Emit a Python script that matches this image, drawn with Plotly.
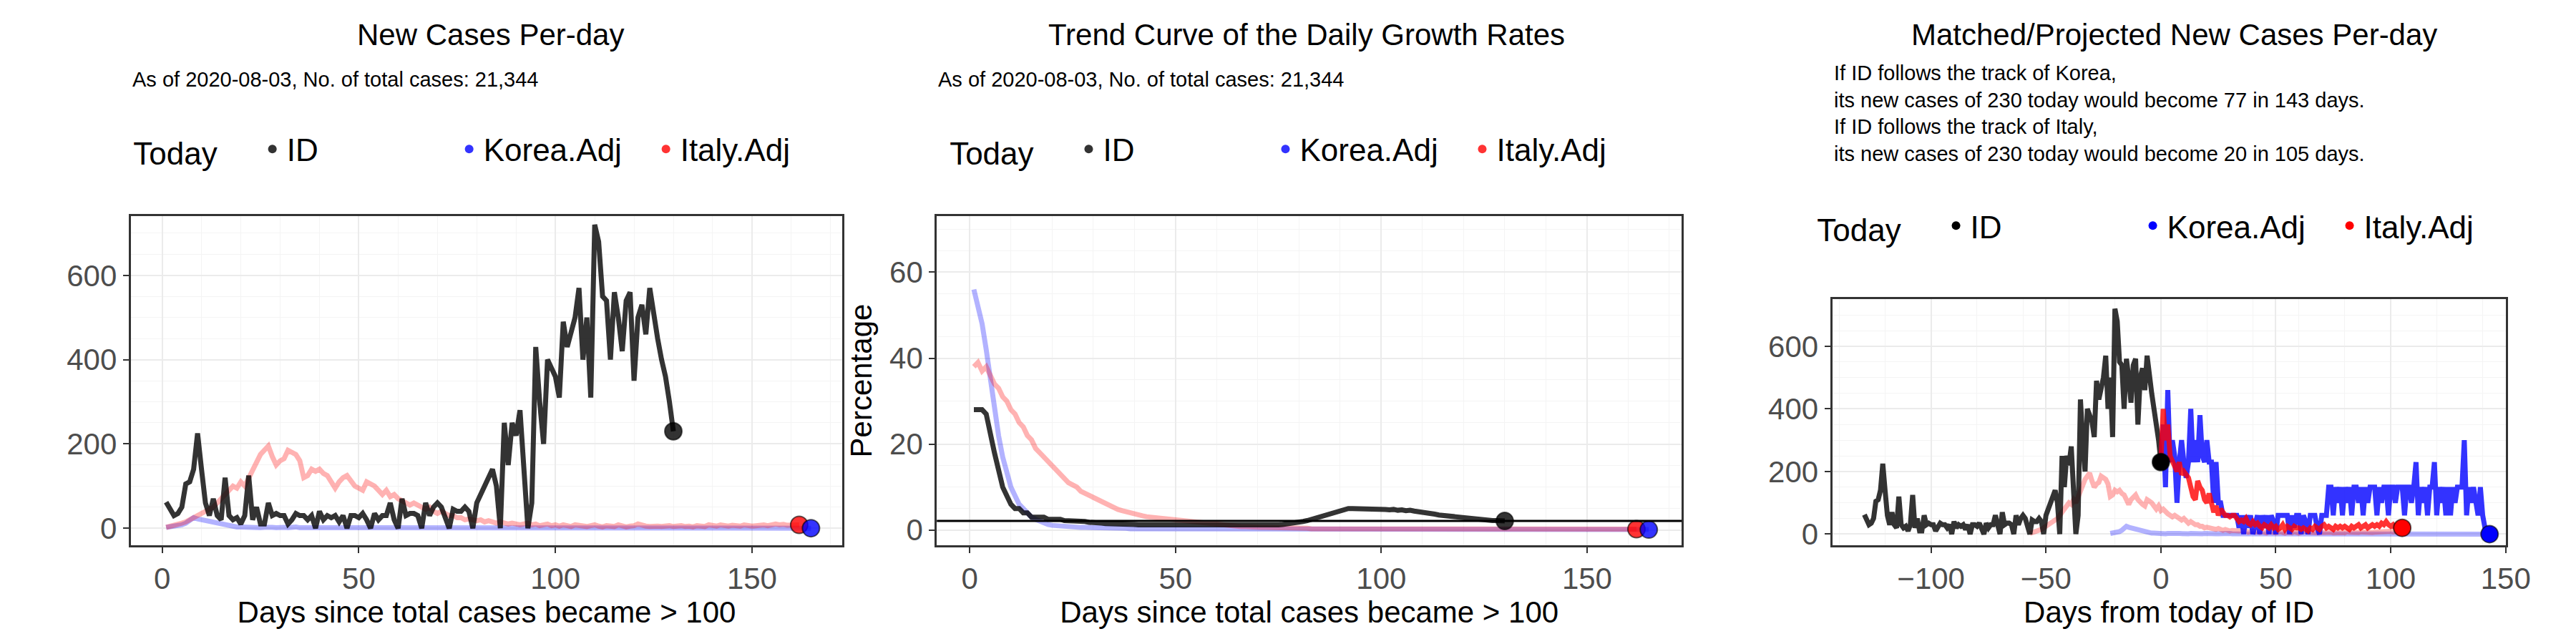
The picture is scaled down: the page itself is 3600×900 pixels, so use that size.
import plotly.graph_objects as go

# ---- data ----
id_new = [62, 45, 30, 35, 50, 105, 110, 140, 225, 140, 60, 30, 70, 30, 20, 120, 30, 20, 25, 10,
          30, 125, 20, 50, 10, 10, 60, 30, 35, 30, 30, 10, 20, 35, 30, 30, 20, 30, 0, 40,
          20, 30, 25, 30, 15, 30, 0, 30, 30, 25, 35, 20, 0, 35, 20, 30, 30, 60, 20, 0,
          70, 30, 35, 35, 30, 0, 60, 30, 50, 60, 50, 25, 0, 45, 40, 40, 50, 40, 0, 60,
          80, 100, 120, 140, 100, 0, 250, 150, 250, 220, 280, 140, 0, 60, 430, 300, 200, 400, 380, 360,
          310, 490, 430, 460, 500, 570, 400, 500, 310, 720, 680, 550, 540, 400, 560, 500, 420, 540, 560, 350,
          500, 530, 460, 570, 500, 450, 400, 360, 300, 230]

korea_adj = [2, 3, 4, 5, 8, 12, 18, 25, 22, 20, 18, 15, 12, 10, 8, 6, 5, 4, 3, 3,
             2, 3, 2, 2, 1, 2, 3, 2, 1, 2, 2, 1, 2, 3, 1, 2, 1, 1, 2, 1,
             1, 2, 1, 1, 2, 1, 1, 1, 2, 1, 1, 1, 2, 1, 1, 1, 1, 2, 1, 1,
             1, 1, 2, 1, 1, 1, 1, 1, 2, 1, 1, 1, 1, 1, 1, 2, 1, 1, 1, 1,
             1, 1, 1, 2, 1, 1, 1, 1, 1, 1, 1, 1, 2, 1, 1, 1, 1, 1, 1, 1,
             2, 1, 1, 1, 1, 1, 2, 1, 1, 1, 1, 1, 1, 2, 1, 1, 1, 1, 1, 1,
             1, 2, 1, 1, 1, 1, 1, 1, 2, 1, 1, 1, 1, 1, 1, 1, 2, 1, 1, 1,
             1, 1, 1, 2, 1, 1, 1, 1, 1, 1, 1, 1, 2, 1, 1, 1, 1, 1, 1, 1,
             1, 1, 1, 1, 0]

italy_adj = [2, 4, 6, 8, 12, 15, 20, 25, 30, 35, 40, 45, 50, 60, 70, 80, 90, 100, 95, 110,
             100, 120, 140, 160, 175, 185, 195, 170, 150, 160, 165, 185, 180, 175, 160, 120, 125, 140, 135, 140,
             130, 125, 110, 95, 110, 120, 125, 110, 100, 95, 90, 110, 105, 100, 90, 80, 90, 75, 80, 70,
             65, 60, 55, 60, 55, 50, 45, 50, 40, 35, 40, 35, 30, 30, 25, 25, 20, 22, 20, 18,
             20, 15, 18, 15, 12, 15, 12, 10, 12, 10, 8, 10, 12, 8, 10, 6, 8, 10, 6, 8,
             5, 8, 6, 4, 8, 6, 5, 4, 6, 8, 5, 3, 6, 5, 4, 8, 5, 3, 5, 6,
             10, 6, 5, 4, 6, 5, 4, 5, 6, 4, 5, 6, 4, 5, 3, 6, 5, 4, 8, 6,
             5, 8, 6, 5, 7, 6, 5, 8, 6, 5, 6, 7, 8, 6, 8, 10, 8, 9, 7, 8,
             8, 8]

id_growth = [28, 28, 28, 27, 22, 18, 14, 10, 8, 6, 5, 5, 4, 4, 3, 3, 3, 3, 2.5, 2.5,
             2.5, 2.5, 2.2, 2.2, 2, 2, 2, 2, 1.8, 1.8, 1.6, 1.6, 1.5, 1.5, 1.4, 1.4, 1.4, 1.3, 1.3, 1.3,
             1.2, 1.2, 1.2, 1.2, 1.1, 1.1, 1.1, 1.1, 1.1, 1, 1, 1, 1, 1, 1, 1, 1, 1, 1, 1,
             1, 1, 1, 1, 1, 1, 1, 1, 1, 1, 1.1, 1.1, 1.1, 1.2, 1.2, 1.3, 1.4, 1.5, 1.6, 1.8,
             2, 2.2, 2.5, 2.8, 3, 3.3, 3.6, 4, 4.3, 4.6, 4.8, 5, 5, 5, 5, 5, 4.8, 4.9, 4.8, 4.9,
             4.8, 4.7, 4.8, 4.6, 4.7, 4.5, 4.6, 4.4, 4.3, 4.2, 4, 3.9, 3.7, 3.5, 3.4, 3.2, 3, 2.9, 2.8, 2.7,
             2.6, 2.5, 2.5, 2.4, 2.3, 2.3, 2.2, 2.2, 2.1, 2.1]

korea_growth = [56, 52, 48, 42, 35, 28, 22, 17, 13, 10, 8, 6, 5, 4, 3, 2.5, 2, 1.6, 1.3, 1.1,
                1, 0.9, 0.8, 0.8, 0.7, 0.7, 0.6, 0.6, 0.6, 0.5, 0.5, 0.5, 0.5, 0.4, 0.4, 0.4, 0.4, 0.4, 0.3, 0.3,
                0.3, 0.3, 0.3, 0.3, 0.3, 0.3, 0.2, 0.2, 0.2, 0.2, 0.2, 0.2, 0.2, 0.2, 0.2, 0.2, 0.2, 0.2, 0.2, 0.2,
                0.2, 0.2, 0.2, 0.2, 0.2, 0.2, 0.2, 0.2, 0.2, 0.2, 0.1, 0.1, 0.1, 0.1, 0.1, 0.1, 0.1, 0.1, 0.1, 0.1,
                0.1, 0.1, 0.1, 0.1, 0.1, 0.1, 0.1, 0.1, 0.1, 0.1, 0.1, 0.1, 0.1, 0.1, 0.1, 0.1, 0.1, 0.1, 0.1, 0.1,
                0.1, 0.1, 0.1, 0.1, 0.1, 0.1, 0.1, 0.1, 0.1, 0.1, 0.1, 0.1, 0.1, 0.1, 0.1, 0.1, 0.1, 0.1, 0.1, 0.1,
                0.1, 0.1, 0.1, 0.1, 0.1, 0.1, 0.1, 0.1, 0.1, 0.1, 0.1, 0.1, 0.1, 0.1, 0.1, 0.1, 0.1, 0.1, 0.1, 0.1,
                0.1, 0.1, 0.1, 0.1, 0.1, 0.1, 0.1, 0.1, 0.1, 0.1, 0.1, 0.1, 0.1, 0.1, 0.1, 0.1, 0.1, 0.1, 0.1, 0.1,
                0.1, 0.1, 0.1, 0.1, 0.1]

italy_growth = [38, 39, 37, 38, 36, 34, 33, 31, 30, 28, 27, 25, 24, 22, 21, 19, 18, 17, 16, 15,
                14, 13, 12, 11, 10.5, 10, 9, 8.5, 8, 7.5, 7, 6.5, 6, 5.5, 5, 4.8, 4.5, 4.2, 4, 3.8,
                3.5, 3.3, 3.1, 3, 2.8, 2.6, 2.5, 2.4, 2.3, 2.2, 2.1, 2, 1.9, 1.8, 1.7, 1.6, 1.5, 1.4, 1.3, 1.2,
                1.1, 1, 1, 0.9, 0.9, 0.8, 0.8, 0.7, 0.7, 0.7, 0.6, 0.6, 0.6, 0.5, 0.5, 0.5, 0.5, 0.4, 0.4, 0.4,
                0.4, 0.4, 0.3, 0.3, 0.3, 0.3, 0.3, 0.3, 0.3, 0.3, 0.2, 0.2, 0.2, 0.2, 0.2, 0.2, 0.2, 0.2, 0.2, 0.2,
                0.2, 0.2, 0.2, 0.2, 0.2, 0.2, 0.2, 0.2, 0.2, 0.2, 0.2, 0.2, 0.2, 0.2, 0.2, 0.2, 0.2, 0.2, 0.2, 0.2,
                0.2, 0.2, 0.2, 0.2, 0.2, 0.2, 0.2, 0.2, 0.2, 0.2, 0.2, 0.2, 0.2, 0.2, 0.2, 0.2, 0.2, 0.2, 0.2, 0.2,
                0.2, 0.2, 0.2, 0.2, 0.2, 0.2, 0.2, 0.2, 0.2, 0.2, 0.2, 0.2, 0.2, 0.2, 0.2, 0.2, 0.2, 0.2, 0.2, 0.2,
                0.2, 0.2]

growth_ref = 2.1

korea_proj = [230, 350, 150, 460, 230, 300, 250, 100, 230, 300, 230, 180, 230, 400, 230, 300, 230, 380, 250, 230,
              300, 230, 230, 100, 230, 100, 100, 60, 60, 60, 60, 60, 60, 60, 20, 60, 0, 60, 20, 60,
              0, 40, 60, 0, 60, 20, 60, 0, 60, 40, 0, 60, 60, 60, 60, 60, 0, 60, 20, 60,
              60, 0, 60, 40, 0, 60, 60, 60, 20, 0, 60, 60, 60, 150, 150, 60, 150, 100, 150, 60,
              150, 100, 150, 60, 150, 150, 100, 150, 60, 150, 100, 150, 150, 150, 60, 150, 100, 150, 150, 60,
              150, 150, 100, 150, 150, 150, 60, 150, 150, 100, 150, 230, 60, 150, 100, 150, 60, 150, 150, 230,
              60, 150, 100, 150, 60, 150, 60, 150, 100, 150, 150, 150, 300, 60, 150, 100, 150, 100, 60, 150,
              60, 20, 0, 0]

italy_proj = [230, 400, 300, 350, 250, 230, 220, 200, 230, 190, 200, 190, 180, 150, 120, 110, 170, 150, 140, 110,
              100, 130, 90, 70, 90, 60, 80, 70, 60, 60, 55, 60, 60, 50, 40, 45, 40, 50, 35, 30,
              40, 30, 35, 25, 20, 30, 25, 20, 30, 20, 25, 15, 20, 30, 15, 25, 20, 15, 25, 20,
              20, 15, 20, 15, 10, 20, 15, 25, 20, 15, 25, 30, 20, 25, 20, 15, 25, 20, 25, 20,
              25, 20, 15, 25, 20, 25, 30, 20, 25, 30, 20, 25, 30, 25, 30, 25, 35, 30, 40, 30,
              25, 30, 20, 20, 20, 20]

italy_shift = -58
korea_shift = -23

BLACK = "rgba(0,0,0,0.8)"
BLUE_F = "rgba(0,0,255,0.3)"
RED_F = "rgba(255,0,0,0.3)"
BLUE = "rgba(0,0,255,0.8)"
RED = "rgba(255,0,0,0.8)"
LW = 7

fig = go.Figure()


def line(x, y, color, xa, ya):
    fig.add_trace(go.Scatter(x=list(x), y=y, mode="lines", line=dict(color=color, width=LW),
                             showlegend=False, xaxis=xa, yaxis=ya, hoverinfo="skip"))


def dot(x, y, color, xa, ya):
    fig.add_trace(go.Scatter(x=[x], y=[y], mode="markers",
                             marker=dict(color=color, size=24, line=dict(color="rgba(0,0,0,0.6)", width=2)),
                             showlegend=False, xaxis=xa, yaxis=ya))


def legend_keys(lg, colors):
    for name, c in zip(["ID", "Korea.Adj", "Italy.Adj"], colors):
        fig.add_trace(go.Scatter(x=[None], y=[None], mode="markers", name=name,
                                 marker=dict(color=c, size=24), legend=lg, xaxis="x", yaxis="y"))


d_id = range(1, len(id_new) + 1)
d_ko = range(1, len(korea_adj) + 1)
d_it = range(1, len(italy_adj) + 1)

# panel 1
line(d_ko, korea_adj, BLUE_F, "x", "y")
line(d_it, italy_adj, RED_F, "x", "y")
line(d_id, id_new, BLACK, "x", "y")
dot(len(id_new), id_new[-1], BLACK, "x", "y")
dot(len(italy_adj), italy_adj[-1], RED, "x", "y")
dot(len(korea_adj), korea_adj[-1], BLUE, "x", "y")

# panel 2
line(range(1, len(korea_growth) + 1), korea_growth, BLUE_F, "x2", "y2")
line(range(1, len(italy_growth) + 1), italy_growth, RED_F, "x2", "y2")
line(range(1, len(id_growth) + 1), id_growth, BLACK, "x2", "y2")
dot(len(id_growth), id_growth[-1], BLACK, "x2", "y2")
dot(len(italy_growth), italy_growth[-1], RED, "x2", "y2")
dot(len(korea_growth), korea_growth[-1], BLUE, "x2", "y2")

# panel 3
n = len(id_new)
line([d + korea_shift for d in d_ko], korea_adj, BLUE_F, "x3", "y3")
line([d + italy_shift for d in d_it], italy_adj, RED_F, "x3", "y3")
line([d - n for d in d_id], id_new, BLACK, "x3", "y3")
line(range(len(korea_proj)), korea_proj, BLUE, "x3", "y3")
line(range(len(italy_proj)), italy_proj, RED, "x3", "y3")
dot(0, id_new[-1], "black", "x3", "y3")
dot(len(italy_proj) - 1, italy_proj[-1], "red", "x3", "y3")
dot(len(korea_proj) - 1, korea_proj[-1], "blue", "x3", "y3")

legend_keys("legend", [BLACK, BLUE, RED])
legend_keys("legend2", [BLACK, BLUE, RED])
legend_keys("legend3", ["black", "blue", "red"])

FONT = "Liberation Sans"
axis_common = dict(showline=True, mirror=True, linecolor="#333", linewidth=3, ticks="outside",
                   ticklen=8, tickwidth=2, tickcolor="#333", gridcolor="#ebebeb", gridwidth=2,
                   zeroline=False, tickfont=dict(size=42, color="#4d4d4d"),
                   minor=dict(showgrid=True, gridcolor="#f4f4f4", gridwidth=1))
xt = dict(size=42, color="black")

fig.update_layout(
    width=3600, height=900, margin=dict(l=0, r=0, t=0, b=0),
    plot_bgcolor="white", paper_bgcolor="white",
    font=dict(family=FONT, color="black"),
    xaxis=dict(domain=[0.049, 0.328], range=[-8, 173], tickvals=[0, 50, 100, 150], anchor="y",
               title=dict(text="Days since total cases became > 100", font=xt, standoff=8), **axis_common),
    yaxis=dict(domain=[0.155, 0.67], range=[-40, 740], tickvals=[0, 200, 400, 600], anchor="x", **axis_common),
    xaxis2=dict(domain=[0.365, 0.657], range=[-8, 173], tickvals=[0, 50, 100, 150], anchor="y2",
                title=dict(text="Days since total cases became > 100", font=xt, standoff=8), **axis_common),
    yaxis2=dict(domain=[0.155, 0.67], range=[-3.5, 73], tickvals=[0, 20, 40, 60], anchor="x2",
                title=dict(text="Percentage", font=xt, standoff=12), **axis_common),
    xaxis3=dict(domain=[0.716, 0.98], range=[-143, 150], tickvals=[-100, -50, 0, 50, 100, 150], anchor="y3",
                title=dict(text="Days from today of ID", font=xt, standoff=8), **axis_common),
    yaxis3=dict(domain=[0.155, 0.54], range=[-35, 750], tickvals=[0, 200, 400, 600], anchor="x3", **axis_common),
    shapes=[dict(type="line", xref="x2 domain", x0=0, x1=1, yref="y2", y0=growth_ref, y1=growth_ref,
                 line=dict(color="black", width=3))],
)

leg = dict(orientation="h", xanchor="center", yanchor="middle", font=dict(size=44),
           entrywidth=230, entrywidthmode="pixels",
           title=dict(text="Today    ", font=dict(size=44)), itemsizing="constant", bgcolor="rgba(0,0,0,0)")
fig.update_layout(legend=dict(x=0.19, y=0.775, **leg),
                  legend2=dict(x=0.51, y=0.775, **leg),
                  legend3=dict(x=0.85, y=0.655, **leg))

ann = []
for cx, t in [(0.19, "New Cases Per-day"), (0.51, "Trend Curve of the Daily Growth Rates"),
              (0.85, "Matched/Projected New Cases Per-day")]:
    ann.append(dict(x=cx, y=0.955, xref="paper", yref="paper", text=t, showarrow=False,
                    font=dict(size=42), xanchor="center", yanchor="middle"))
sub = "As of 2020-08-03, No. of total cases: 21,344"
ann.append(dict(x=0.049, y=0.885, xref="paper", yref="paper", text=sub, showarrow=False,
                font=dict(size=29), xanchor="left", yanchor="middle"))
ann.append(dict(x=0.365, y=0.885, xref="paper", yref="paper", text=sub, showarrow=False,
                font=dict(size=29), xanchor="left", yanchor="middle"))
ann.append(dict(x=0.716, y=0.915, xref="paper", yref="paper", align="left",
                text=("If ID follows the track of Korea,<br>its new cases of 230 today would become 77 in 143 days."
                      "<br>If ID follows the track of Italy,<br>its new cases of 230 today would become 20 in 105 days."),
                showarrow=False, font=dict(size=29), xanchor="left", yanchor="top"))
fig.update_layout(annotations=ann)

fig.write_html("out.html")
